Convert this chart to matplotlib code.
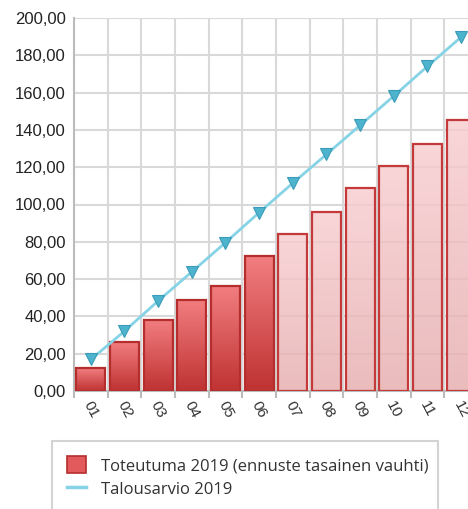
import matplotlib.pyplot as plt
import numpy as np
from matplotlib.patches import Patch
from matplotlib.lines import Line2D
from matplotlib.colors import LinearSegmentedColormap

# data
months = ['01', '02', '03', '04', '05', '06', '07', '08', '09', '10', '11', '12']
toteutuma = [12.3, 26.4, 38.1, 49.0, 56.3, 72.4, 84.4, 96.0, 108.7, 120.8, 132.4, 145.3]
ennuste = [False, False, False, False, False, False, True, True, True, True, True, True]
talousarvio = [16.9, 32.1, 48.3, 63.9, 79.6, 95.7, 111.5, 126.9, 142.5, 158.2, 174.1, 189.8]

fig = plt.figure(figsize=(4.68, 5.09), dpi=100)
ax = fig.add_axes([74 / 468, 118 / 509, 404 / 468, 373 / 509])

x = np.arange(len(months))
bars = ax.bar(x, toteutuma, width=0.87, color='none', zorder=2)

dark = LinearSegmentedColormap.from_list('dark', ['#bf3232', '#f27e80'])
pale = LinearSegmentedColormap.from_list('pale', ['#e6adae', '#f8cdd0'])
grad = np.linspace(0, 1, 256).reshape(-1, 1)

for bar, is_fc in zip(bars, ennuste):
    bx, by = bar.get_x(), bar.get_y()
    bw, bh = bar.get_width(), bar.get_height()
    cmap = pale if is_fc else dark
    im = ax.imshow(grad, cmap=cmap, origin='lower', aspect='auto',
                   extent=(bx, bx + bw, by, by + bh), zorder=2,
                   alpha=0.82 if is_fc else 1.0)
    im.set_clip_path(bar)
    bar.set_edgecolor('#c43a3a' if is_fc else '#b52d2d')
    bar.set_linewidth(1.6)
    bar.set_zorder(3)

ax.plot(x, talousarvio, color='#86d3e6', lw=2, marker='v', markersize=9,
        markerfacecolor='#4eb4cd', markeredgecolor='#3a9cb8', markeredgewidth=0.8,
        zorder=4)

ax.set_xlim(-0.5, 11.5)
ax.set_ylim(0, 200)
ax.set_yticks(np.arange(0, 201, 20))
ax.set_yticklabels(['{:.2f}'.format(v).replace('.', ',') for v in np.arange(0, 201, 20)],
                   fontsize=12, family='Liberation Sans', color='#222222')
ax.set_xticks(x)
ax.set_xticklabels(months, rotation=-62, fontsize=11, family='Liberation Sans',
                   color='#333333', ha='center', va='top')
ax.set_xticks(np.arange(-0.5, 12, 1), minor=True)
ax.tick_params(axis='x', which='major', length=0, pad=6)
ax.tick_params(axis='x', which='minor', length=5, color='#bbbbbb', width=1.5)
ax.tick_params(axis='y', length=0, pad=6)

ax.grid(True, which='minor', axis='x', color='#d9d9d9', lw=1.5)
ax.grid(True, which='major', axis='y', color='#d9d9d9', lw=1.5)
ax.set_axisbelow(True)
for s in ['top', 'right']:
    ax.spines[s].set_visible(False)
ax.spines['left'].set_color('#bbbbbb')
ax.spines['bottom'].set_color('#bbbbbb')
ax.spines['left'].set_linewidth(1.5)
ax.spines['bottom'].set_linewidth(1.5)

handles = [Patch(facecolor='#e25a5c', edgecolor='#b52d2d', lw=1.2),
           Line2D([0], [0], color='#86d3e6', lw=2.5)]
labels = ['Toteutuma 2019 (ennuste tasainen vauhti)', 'Talousarvio 2019']
leg = fig.legend(handles, labels, loc='upper left',
                 bbox_to_anchor=(52 / 468, 1 - 446 / 509, 386 / 468, 0.01),
                 mode='expand', fancybox=False, edgecolor='#c8c8c8',
                 prop={'family': 'Open Sans', 'size': 12}, labelcolor='#333333',
                 handlelength=1.15, handleheight=1.2, handletextpad=0.9,
                 labelspacing=0.35, borderpad=0.9, borderaxespad=0)
leg.get_frame().set_linewidth(1.5)

fig.savefig('out.png', dpi=100)
